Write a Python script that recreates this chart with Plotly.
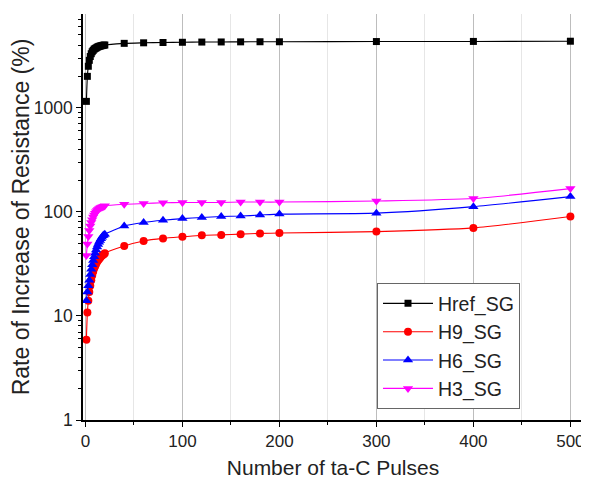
import plotly.graph_objects as go

pulses = list(range(1, 21)) + [40, 60, 80, 100, 120, 140, 160, 180, 200, 300, 400, 500]

href_sg = [1150, 2000, 2500, 2850, 3100, 3300, 3450, 3550, 3650, 3700,
           3750, 3800, 3850, 3880, 3900, 3930, 3950, 3970, 3990, 4000,
           4150, 4200, 4230, 4250, 4270, 4280, 4290, 4300, 4300, 4320, 4330, 4350]
h9_sg = [5.9, 10.8, 14, 17, 19.5, 22, 24.5, 26.5, 28.5, 30,
         31.5, 33, 34, 35, 36, 37, 38, 38.5, 39, 40,
         47, 52.5, 55.5, 57.5, 59.5, 60, 61, 62, 62.5, 64.5, 70, 90]
h6_sg = [14, 17, 19.5, 22, 25, 28, 31, 34, 37, 40,
         43, 46, 48.5, 51, 53, 55, 57, 59, 60, 61,
         73, 79, 83, 86, 88, 90, 91, 93, 95, 97, 112, 140]
h3_sg = [38, 49, 58, 66, 73, 79, 84, 89, 93, 97,
         100, 103, 105, 107, 109, 110, 111, 112, 113, 114,
         118, 120, 122, 123, 123, 123, 124, 124, 124, 127, 134, 167]

series = [
    ("Href_SG", href_sg, "#000000", "square", 7),
    ("H9_SG", h9_sg, "#FF0000", "circle", 8),
    ("H6_SG", h6_sg, "#0000FF", "triangle-up", 9),
    ("H3_SG", h3_sg, "#FF00FF", "triangle-down", 9),
]

x_ticks = [0, 100, 200, 300, 400, 500]
y_ticks = [1, 10, 100, 1000]

FONT = "Arial, Liberation Sans, sans-serif"

fig = go.Figure()
for name, vals, col, sym, sz in series:
    fig.add_trace(go.Scatter(
        x=pulses, y=vals, name=name, mode="lines+markers",
        line=dict(color=col, width=1.1, shape="spline", smoothing=0.6),
        marker=dict(color=col, symbol=sym, size=sz),
    ))

# The page body has an 8px margin; size the figure so it fits the 589x479 window.
fig.update_layout(
    width=581, height=471,
    margin=dict(l=75, r=6, t=6, b=59),
    paper_bgcolor="white", plot_bgcolor="white",
    font=dict(family=FONT, color="#222222", size=17),
    legend=dict(
        x=0.588, y=0.337, xanchor="left", yanchor="top",
        bgcolor="white", bordercolor="#666666", borderwidth=1,
        font=dict(size=19.5, color="#222222"),
        tracegroupgap=0, itemwidth=50,
    ),
)

fig.update_xaxes(
    range=[-2.5, 513], automargin=False,
    tickvals=x_ticks, ticktext=[str(v) for v in x_ticks],
    showline=True, linecolor="#000000", linewidth=1.5,
    ticks="outside", ticklen=5, tickcolor="#000000", tickwidth=1.2,
    showgrid=True, gridcolor="#BDBDBD", gridwidth=1,
    zeroline=False,
    minor=dict(dtick=50, tick0=0, ticks="outside", ticklen=3, tickcolor="#000000",
               showgrid=True, gridcolor="#E6E6E6", gridwidth=1),
    title=dict(text="Number of ta-C Pulses", font=dict(size=21), standoff=10),
    tickfont=dict(size=17),
)

fig.update_yaxes(
    type="log", range=[0, 3.9], automargin=False,
    tickvals=y_ticks, ticktext=[str(v) for v in y_ticks],
    showline=True, linecolor="#000000", linewidth=1.5,
    ticks="outside", ticklen=5, tickcolor="#000000", tickwidth=1.2,
    showgrid=False, zeroline=False,
    minor=dict(dtick="D1", ticks="outside", ticklen=3, tickcolor="#000000", showgrid=False),
    title=dict(text="Rate of Increase of Resistance (%)", font=dict(size=23), standoff=2),
    tickfont=dict(size=17.5),
)

fig.write_html("out.html")
